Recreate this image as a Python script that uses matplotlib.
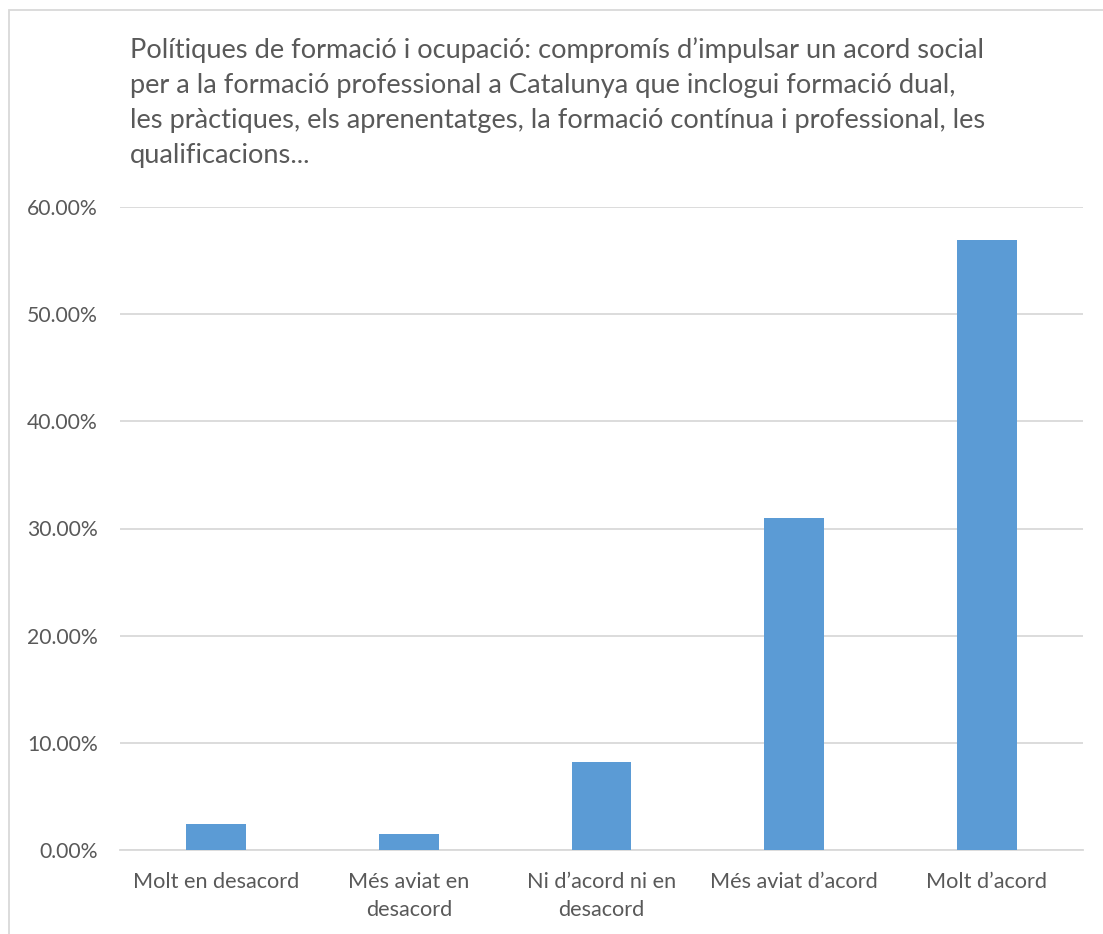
import matplotlib
matplotlib.use("Agg")
import matplotlib.pyplot as plt
from matplotlib.patches import Rectangle
from matplotlib.ticker import FuncFormatter

categories = ["Molt en desacord", "Més aviat en\ndesacord", "Ni d’acord ni en\ndesacord",
              "Més aviat d’acord", "Molt d’acord"]
values = [0.0243, 0.0145, 0.0818, 0.310, 0.569]
title_lines = [
    "Polítiques de formació i ocupació: compromís d’impulsar un acord social",
    "per a la formació professional a Catalunya que inclogui formació dual,",
    "les pràctiques, els aprenentatges, la formació contínua i professional, les",
    "qualificacions...",
]
yticks = [0.0, 0.1, 0.2, 0.3, 0.4, 0.5, 0.6]

W, H = 1103, 934
plt.rcParams['font.family'] = ['Lato', 'DejaVu Sans']
fig = plt.figure(figsize=(W / 100, H / 100), dpi=100)
fig.patch.set_facecolor("white")
renderer = fig.canvas.get_renderer()


def fit_size(text, target_px, base=16.0):
    t = fig.text(0, 0, text, fontsize=base)
    w = t.get_window_extent(renderer=renderer).width
    t.remove()
    return base * target_px / w


title_fs = fit_size(title_lines[0], 858)
xlab_fs = fit_size(categories[0], 167)
ylab_fs = fit_size("50.00%", 71)

# chart border
fig.patches.append(Rectangle((9 / W, -0.05), 1.2, 1 - 10 / H + 0.05, transform=fig.transFigure,
                             fill=False, edgecolor="#D9D9D9", linewidth=1.3))

ax = fig.add_axes([120 / W, 1 - 850 / H, (1083 - 120) / W, (850 - 207) / H])
x = range(len(categories))
ax.bar(x, values, width=0.31, color="#5B9BD5", zorder=3)
ax.set_xlim(-0.5, len(categories) - 0.5)
ax.set_ylim(0, 0.6)
ax.set_yticks(yticks)
ax.yaxis.set_major_formatter(FuncFormatter(lambda v, p: f"{v * 100:.2f}%"))
ax.set_xticks(list(x))
ax.set_xticklabels(categories, linespacing=1.47)
ax.grid(axis="y", color="#D9D9D9", linewidth=1.3, zorder=0)
for s in ["top", "right", "left"]:
    ax.spines[s].set_visible(False)
ax.spines["bottom"].set_color("#D9D9D9")
ax.spines["bottom"].set_linewidth(1.3)
ax.tick_params(axis="both", length=0, labelcolor="#595959")
ax.tick_params(axis="x", labelsize=xlab_fs, pad=16)
ax.tick_params(axis="y", labelsize=ylab_fs, pad=16)

for i, line in enumerate(title_lines):
    fig.text(130 / W, 1 - (58 + 35 * i) / H, line, ha="left", va="baseline",
             fontsize=title_fs, color="#595959")

fig.savefig("out.png", dpi=100, facecolor="white")
